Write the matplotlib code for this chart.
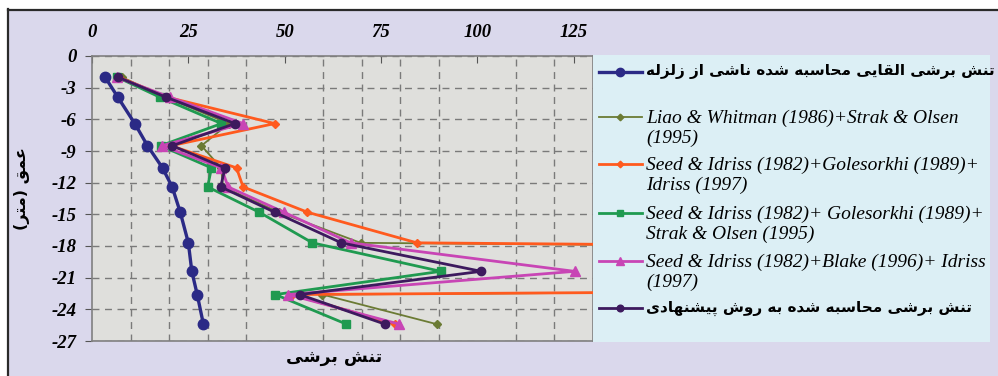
import numpy as np
import matplotlib
matplotlib.use("Agg")
import matplotlib.pyplot as plt
from matplotlib.patches import Rectangle
from matplotlib.lines import Line2D

# ---------------------------------------------------------------- data
depth = [-2.0, -3.9, -6.4, -8.5, -10.6, -12.4, -14.8, -17.7, -20.4, -22.6, -25.4]

quake_stress      = [3.4, 6.7, 11.1, 14.4, 18.3, 20.8, 22.9, 25.0, 25.9, 27.3, 28.9]
liao_strak        = [7.7, 19.0, 35.5, 28.4, 33.5, 34.0, 48.5, 69.7, 1000.0, 59.8, 89.4]
seed_gol_idriss   = [7.0, 19.5, 47.4, 20.5, 37.5, 39.2, 55.9, 84.3, 1000.0, 52.0, 78.5]
seed_gol_strak    = [6.5, 17.6, 33.6, 17.8, 31.0, 30.0, 43.4, 57.2, 90.5, 47.6, 66.0]
seed_blake_idriss = [6.4, 20.2, 39.2, 18.1, 33.6, 35.3, 49.8, 67.1, 125.2, 50.9, 79.7]
proposed          = [6.7, 19.2, 37.1, 20.8, 34.5, 33.4, 47.4, 64.7, 101.0, 53.9, 76.0]

x_ticks = [0, 25, 50, 75, 100, 125]
y_ticks = [0, -3, -6, -9, -12, -15, -18, -21, -24, -27]

series_labels = [
    "تنش برشی القایی محاسبه شده ناشی از زلزله",
    "Liao & Whitman (1986)+Strak & Olsen\n(1995)",
    "Seed & Idriss (1982)+Golesorkhi (1989)+\nIdriss (1997)",
    "Seed & Idriss (1982)+ Golesorkhi (1989)+\nStrak & Olsen (1995)",
    "Seed & Idriss (1982)+Blake (1996)+ Idriss\n(1997)",
    "تنش برشی محاسبه شده به روش پیشنهادی",
]
x_label = "تنش برشی"
y_label = "عمق (متر)"

# ------------------------------------------------- Arabic-script shaping
# isolated, final, initial, medial presentation forms
FORMS = {
    "ا": ("\uFE8D", "\uFE8E", None, None),
    "ب": ("\uFE8F", "\uFE90", "\uFE91", "\uFE92"),
    "پ": ("\uFB56", "\uFB57", "\uFB58", "\uFB59"),
    "ت": ("\uFE95", "\uFE96", "\uFE97", "\uFE98"),
    "ح": ("\uFEA1", "\uFEA2", "\uFEA3", "\uFEA4"),
    "د": ("\uFEA9", "\uFEAA", None, None),
    "ر": ("\uFEAD", "\uFEAE", None, None),
    "ز": ("\uFEAF", "\uFEB0", None, None),
    "س": ("\uFEB1", "\uFEB2", "\uFEB3", "\uFEB4"),
    "ش": ("\uFEB5", "\uFEB6", "\uFEB7", "\uFEB8"),
    "ع": ("\uFEC9", "\uFECA", "\uFECB", "\uFECC"),
    "ق": ("\uFED5", "\uFED6", "\uFED7", "\uFED8"),
    "ل": ("\uFEDD", "\uFEDE", "\uFEDF", "\uFEE0"),
    "م": ("\uFEE1", "\uFEE2", "\uFEE3", "\uFEE4"),
    "ن": ("\uFEE5", "\uFEE6", "\uFEE7", "\uFEE8"),
    "ه": ("\uFEE9", "\uFEEA", "\uFEEB", "\uFEEC"),
    "و": ("\uFEED", "\uFEEE", None, None),
    "ی": ("\uFBFC", "\uFBFD", "\uFBFE", "\uFBFF"),
}


def rtl(text):
    """Join letters into contextual forms and return them in visual order."""
    out = []
    for i, ch in enumerate(text):
        if ch not in FORMS:
            out.append(ch)
            continue
        iso, fin, ini, med = FORMS[ch]
        prev = text[i - 1] if i > 0 else ""
        nxt = text[i + 1] if i + 1 < len(text) else ""
        join_prev = prev in FORMS and FORMS[prev][2] is not None
        join_next = ini is not None and nxt in FORMS
        if join_prev and join_next:
            out.append(med)
        elif join_prev:
            out.append(fin)
        elif join_next:
            out.append(ini)
        else:
            out.append(iso)
    mirror = {"(": ")", ")": "("}
    return "".join(mirror.get(c, c) for c in reversed(out))


def is_arabic(s):
    return any(c in FORMS for c in s)


# --------------------------------------------------------------- styles
styles = [
    dict(color="#2B2A86", lw=2.4, marker="o", ms=7.5, zorder=3),
    dict(color="#6B7B34", lw=1.3, marker="D", ms=4.2, zorder=4),
    dict(color="#FF5A1E", lw=2.0, marker="D", ms=4.2, zorder=5),
    dict(color="#1F9A50", lw=2.0, marker="s", ms=5.5, zorder=6),
    dict(color="#C845B5", lw=2.0, marker="^", ms=6.5, zorder=7),
    dict(color="#3D1A5E", lw=2.0, marker="o", ms=6.0, zorder=8),
]
series = [quake_stress, liao_strak, seed_gol_idriss,
          seed_gol_strak, seed_blake_idriss, proposed]

TICK_FONT = dict(family="Liberation Serif", weight="bold", style="italic", size=13.5)
LEG_FONT = dict(family="Liberation Serif", style="italic", size=14)
AR_FONT = dict(family="DejaVu Sans", weight="bold")

W, H = 998, 376
fig = plt.figure(figsize=(W / 100, H / 100), dpi=100, facecolor="white")

# backdrop panel in pixel units: lavender fill, dark frame on top and left
bg = fig.add_axes([0, 0, 1, 1], zorder=-10)
bg.set_xlim(0, W)
bg.set_ylim(H, 0)
bg.axis("off")
bg.add_patch(Rectangle((8, 9), W, H, facecolor="#DAD8EC", edgecolor="none"))
bg.add_line(Line2D([8, W], [9.5, 9.5], color="#2A2A2A", lw=1.6))
bg.add_line(Line2D([8.5, 8.5], [9, H], color="#2A2A2A", lw=1.6))

ax = fig.add_axes([92 / W, 1 - 341 / H, 501 / W, 285 / H])
ax.set_facecolor("#DFDFDC")

for xs, st in zip(series, styles):
    ax.plot(xs, depth, color=st["color"], lw=st["lw"], marker=st["marker"],
            ms=st["ms"], mfc=st["color"], mec=st["color"],
            solid_joinstyle="round", zorder=st["zorder"])

ax.set_xlim(0, 130)
ax.set_ylim(-27, 0)

# top axis with value labels, inward ticks every 25
ax.xaxis.tick_top()
ax.set_xticks(x_ticks)
ax.set_xticklabels([str(v) for v in x_ticks], fontdict=TICK_FONT)
ax.set_xticks(np.arange(10, 130, 10), minor=True)
ax.tick_params(axis="x", which="major", direction="in", length=5, pad=11,
               color="#555555")
ax.tick_params(axis="x", which="minor", length=0)

ax.set_yticks(y_ticks)
ax.set_yticklabels([str(v) for v in y_ticks], fontdict=TICK_FONT)
ax.tick_params(axis="y", direction="out", length=5, pad=6, color="#555555")

ax.grid(True, axis="x", which="minor", ls=(0, (5, 4)), color="#7A7A7A", lw=1.0)
ax.grid(True, axis="y", which="major", ls=(0, (5, 4)), color="#7A7A7A", lw=1.0)
ax.set_axisbelow(True)
for sp in ax.spines.values():
    sp.set_color("#808080")
    sp.set_linewidth(1.2)

fig.text(334 / W, 1 - 357 / H, rtl(x_label), ha="center", va="center",
         size=12.5, **AR_FONT)
fig.text(22 / W, 1 - 189 / H, rtl(y_label), ha="center", va="center",
         rotation=90, size=11.5, **AR_FONT)

# ------------------------------------------------------------- legend
lx0, lx1, ly0, ly1 = 593, 990, 55, 342
lax = fig.add_axes([lx0 / W, 1 - ly1 / H, (lx1 - lx0) / W, (ly1 - ly0) / H])
lax.set_facecolor("#DCEFF5")
lax.set_xlim(0, 1)
lax.set_ylim(1, 0)
lax.set_xticks([])
lax.set_yticks([])
for sp in lax.spines.values():
    sp.set_visible(False)

entry_y = [72, 117, 164, 213, 261, 308]
line_gap = 20
for lab, st, yy in zip(series_labels, styles, entry_y):
    fy = (yy - ly0) / (ly1 - ly0)
    lax.add_line(Line2D([6 / 397, 49 / 397], [fy, fy], color=st["color"],
                        lw=st["lw"]))
    lax.add_line(Line2D([27 / 397], [fy], color=st["color"], marker=st["marker"],
                        ms=st["ms"] * 0.8, mfc=st["color"], mec=st["color"]))
    tx = 53 / 397
    if is_arabic(lab):
        lax.text(tx, fy, rtl(lab), ha="left", va="center", size=11, **AR_FONT)
    else:
        for k, line in enumerate(lab.split("\n")):
            by = (yy + 6 + k * line_gap - ly0) / (ly1 - ly0)
            lax.text(tx, by, line, ha="left", va="baseline", **LEG_FONT)

fig.savefig("out.png", dpi=100, facecolor="white")
